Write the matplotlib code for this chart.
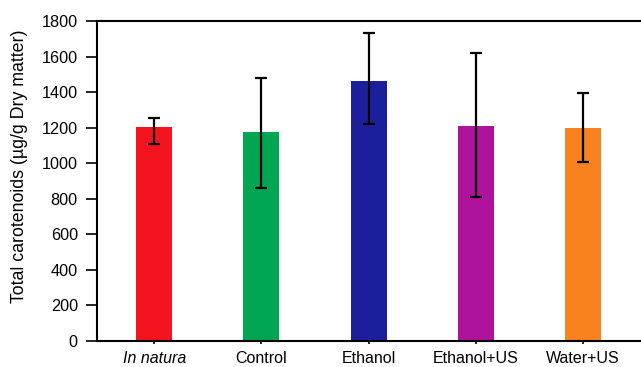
import numpy as np
import matplotlib.pyplot as plt

plt.rcParams['font.family'] = ['Liberation Sans', 'DejaVu Sans']

# data
groups = ["In natura", "Control", "Ethanol", "Ethanol+US", "Water+US"]
carotenoids = [1202, 1176, 1464, 1211, 1198]
err_low = [94, 315, 242, 401, 193]
err_high = [52, 305, 267, 407, 197]
bar_colors = ["#F4141F", "#00A651", "#1B1F9C", "#B0139B", "#F7821E"]

fig = plt.figure(figsize=(6.41, 3.67), dpi=100)
ax = fig.add_axes([0.1518, 0.0708, 0.8482, 0.872])

x = np.arange(len(groups))
ax.bar(x, carotenoids, width=0.335, color=bar_colors, zorder=2)
ax.errorbar(x, carotenoids, yerr=[err_low, err_high], fmt='none', ecolor='black',
            elinewidth=1.6, capsize=4.3, capthick=1.6, zorder=3)

ax.set_xlim(-0.53, 4.54)
ax.set_ylim(0, 1800)
ax.set_yticks(np.arange(0, 1801, 200))
ax.set_xticks(x)
ax.set_xticklabels(groups)
ax.get_xticklabels()[0].set_style('italic')

ax.spines['right'].set_visible(False)
for s in ['left', 'bottom', 'top']:
    ax.spines[s].set_linewidth(1.5)

ax.tick_params(axis='y', direction='out', length=8, width=1.2, labelsize=11.7, pad=6)
ax.tick_params(axis='x', direction='out', length=2.5, width=1.2, labelsize=11.5, pad=5)
ax.set_ylabel(u"Total carotenoids (\u00b5g/g Dry matter)", fontsize=12.8)
ax.yaxis.set_label_coords(-0.127, 0.547)

fig.savefig("out.png", dpi=100)
